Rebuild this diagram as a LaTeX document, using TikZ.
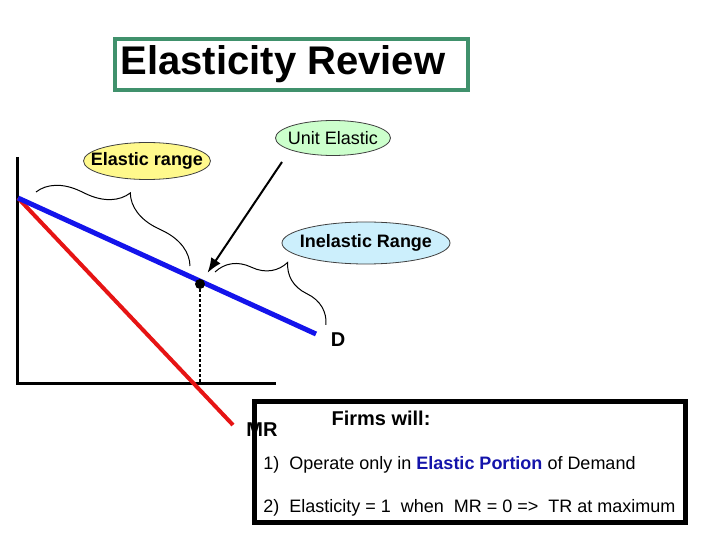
\documentclass[tikz,border=0pt]{standalone}
\usepackage{fontspec}
\setmainfont{Liberation Sans}
\usetikzlibrary{arrows.meta,shapes.geometric,decorations.pathreplacing}
\definecolor{titlegreen}{RGB}{64,145,108}
\definecolor{demandblue}{RGB}{20,20,235}
\definecolor{mrred}{RGB}{230,20,20}
\definecolor{portionblue}{RGB}{20,20,170}

\begin{document}
\begin{tikzpicture}[x=0.5pt,y=-0.5pt,>=Latex,
    bubble/.style={draw=black!75,ellipse,inner xsep=-8pt,inner ysep=0pt,font=\fontsize{9}{11}\selectfont},
    curly/.style={decorate,decoration={brace,amplitude=20pt},line width=0.5pt},
    lbl/.style={font=\fontsize{9}{11}\selectfont\bfseries,inner sep=0pt}]
    \useasboundingbox (0,0) rectangle (720,540);
    % title
    \draw[titlegreen,line width=2pt] (115,39) rectangle (468,90);
    \node[font=\fontsize{20}{24}\selectfont\bfseries,inner sep=0pt] (title) at (283,64.5) {Elasticity Review};
    % axes
    \coordinate (ytop) at (18,157);
    \coordinate (orig) at (18,384);
    \coordinate (xend) at (276,384);
    \draw[line width=1.5pt] (ytop) -- (orig) -- (xend);
    % curves
    \coordinate (start) at (18,198);
    \coordinate (dend) at (316,334);
    \coordinate (mrend) at (233,425);
    \draw[mrred,line width=2pt] (start) -- (mrend);
    \draw[demandblue,line width=2.5pt] (start) -- (dend);
    \node[lbl,font=\fontsize{10}{12}\selectfont\bfseries] (dlab) at (338,340) {D};
    % unit elastic point
    \node[circle,fill=black,inner sep=0pt,minimum size=5pt] (ue) at (200,284) {};
    \coordinate (ufoot) at (200,383);
    \draw[line width=0.6pt,dash pattern=on 1.5pt off 1pt] (ue) -- (ufoot);
    % labels
    \node[bubble,fill=yellow!45,minimum width=63.5pt,minimum height=18.5pt,font=\fontsize{9}{11}\selectfont\bfseries]
      (elastic) at (147,161) {Elastic range};
    \node[bubble,fill=green!20,minimum width=57.5pt,minimum height=17.5pt]
      (unit) at (333,138) {Unit Elastic};
    \node[bubble,fill=cyan!20,minimum width=84pt,minimum height=21pt,font=\fontsize{9}{11}\selectfont\bfseries]
      (inelastic) at (366,243) {Inelastic Range};
    \coordinate (ustart) at (282,162);
    \draw[->,line width=1pt,shorten >=4pt] (ustart) -- (ue);
    % braces
    \coordinate (eb1) at (36,192);
    \coordinate (eb2) at (190,266);
    \coordinate (ib1) at (215,272);
    \coordinate (ib2) at (326,325);
    \draw[curly] (eb1) -- (eb2);
    \draw[curly] (ib1) -- (ib2);
    % summary box
    \node[lbl,font=\fontsize{10}{12}\selectfont\bfseries] (mr) at (262,430) {MR};
    \draw[line width=2.5pt] (254.5,402) rectangle (685.5,522.5);
    \node[lbl,font=\fontsize{10}{12}\selectfont\bfseries] (firms) at (381,418) {Firms will:};
    \node[anchor=west,inner sep=0pt,font=\fontsize{9}{11}\selectfont] (rule1) at (263,465)
      {1)\ \ Operate only in \textbf{\color{portionblue}Elastic Portion} of Demand};
    \node[anchor=west,inner sep=0pt,font=\fontsize{9}{11}\selectfont] (rule2) at (263,508)
      {2)\ \ Elasticity = 1\ \ when\ \ MR = 0 =>\ \ TR at maximum};
\end{tikzpicture}
\end{document}
